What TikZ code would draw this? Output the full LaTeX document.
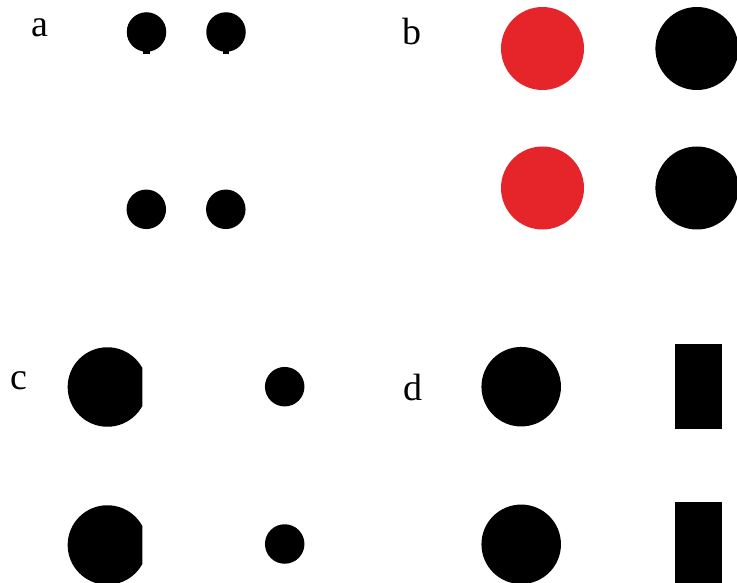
\documentclass[tikz,border=0pt]{standalone}
\usepackage{fontspec}
\setmainfont{Liberation Serif}
\usepackage{xcolor}
\usetikzlibrary{positioning}

\definecolor{dotred}{RGB}{230,37,43}

\begin{document}
\begin{tikzpicture}[
  x=1pt, y=-1pt,
  dot/.style={circle, fill=black, inner sep=0pt, minimum size=39.5pt},
  bigdot/.style={circle, fill=black, inner sep=0pt, minimum size=79.5pt},
  huge/.style={circle, fill=black, inner sep=0pt, minimum size=83pt},
  reddot/.style={huge, fill=dotred},
  stem/.style={fill=black, inner sep=0pt, minimum width=6.7pt, minimum height=3pt},
  bar/.style={fill=black, inner sep=0pt, minimum width=46.7pt, minimum height=85.3pt},
  panel/.style={font=\fontsize{38}{40}\selectfont, inner sep=0pt, anchor=base}
]
\clip (0,0) rectangle (737,583);

% panel labels
\node[panel] (la) at (40,37) {a};
\node[panel] (lb) at (412,45) {b};
\node[panel] (lc) at (19,389) {c};
\node[panel] (ld) at (413,400) {d};

% a
\node[dot] (a1) at (146.5,32) {};
\node[dot, right=39.6pt of a1] (a2) {};
\node[stem, below=-1.5pt of a1] (s1) {};
\node[stem, below=-1.5pt of a2] (s2) {};
\node[dot] (a3) at (146.3,209.3) {};
\node[dot, right=39.6pt of a3] (a4) {};

% b
\node[reddot] (b1) at (542.5,48.5) {};
\node[huge, right=71pt of b1] (b2) {};
\node[reddot] (b3) at (542.5,188) {};
\node[huge, right=71pt of b3] (b4) {};

% c
\begin{scope}
  \clip (50,330) rectangle (142.3,600);
  \node[bigdot] (c1) at (107.4,387) {};
  \node[bigdot] (c2) at (107.4,545) {};
\end{scope}
\node[dot] (c3) at (284.7,386.7) {};
\node[dot] (c4) at (284.7,544) {};

% d
\node[bigdot] (d1) at (521.2,386.7) {};
\node[bigdot] (d2) at (521.2,544.3) {};
\node[bar] (d3) at (698.3,386.7) {};
\node[bar] (d4) at (698.3,544.3) {};
\end{tikzpicture}
\end{document}
